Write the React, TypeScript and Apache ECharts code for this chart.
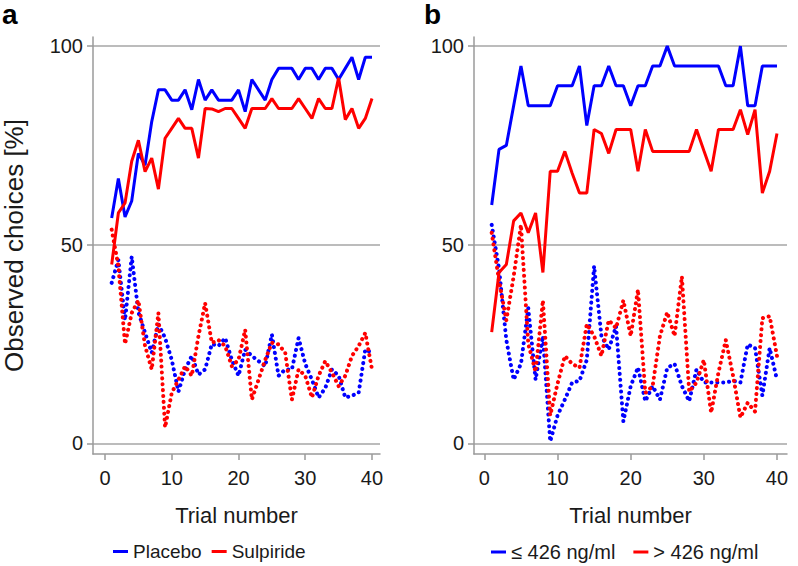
import React, { useEffect, useRef } from "react";
import * as echarts from "echarts";

const trials = Array.from({ length: 40 }, (_, i) => i + 1);
const xTicks = [0, 10, 20, 30, 40];
const yTicks = [0, 50, 100];

// Panel a
const placeboSolid = [56.7, 66.7, 57, 61, 73, 70, 81, 89, 89, 86.4, 86.4, 89, 84, 91.6, 86.4, 89, 86.4, 86.4, 86.4, 89, 83.5, 91.6, 89, 86.4, 91.6, 94.4, 94.4, 94.4, 91.6, 94.4, 94.4, 91.6, 94.4, 94.4, 91.6, 94.4, 97.2, 91.6, 97.2, 97.2];
const sulpirideSolid = [45, 58, 60.5, 71, 76.3, 68.4, 71.8, 64, 76.8, 79.3, 81.8, 79.3, 79.3, 71.8, 84.3, 84.2, 83.5, 84.3, 84.3, 81.8, 79.3, 84.3, 84.3, 84.3, 86.8, 84.3, 84.3, 84.3, 86.8, 84.3, 81.8, 86.8, 84.3, 84.3, 92, 81.5, 84.3, 79.3, 81.8, 86.8];
const placeboDotted = [40.4, 46.2, 31, 47, 33, 27.8, 22.8, 30, 26.5, 21, 13, 18.6, 22, 17.3, 18.6, 25, 24.5, 26.5, 21, 17, 23.6, 22, 20.7, 19.4, 27.4, 17, 18.6, 18.6, 26.5, 20, 16, 11.5, 13.9, 18.6, 17, 11.5, 12, 12.7, 23.6, 22.8];
const sulpirideDotted = [53.8, 44.6, 25, 32.8, 36, 24.5, 18.6, 32.8, 4, 12.7, 16, 19.4, 17, 27, 35.3, 25.3, 26, 24.5, 19.4, 21, 28.6, 11, 16, 21, 25.3, 24.9, 22.8, 11, 18.6, 17, 11.5, 17, 20.7, 17.8, 14.4, 17, 22, 24.5, 27.8, 18.6];

// Panel b
const lowSolid = [60, 74, 75, 85, 95, 85, 85, 85, 85, 90, 90, 90, 95, 80, 90, 90, 95, 90, 90, 85, 90, 90, 95, 95, 100, 95, 95, 95, 95, 95, 95, 95, 90, 90, 100, 85, 85, 95, 95, 95];
const highSolid = [28, 43, 45, 56, 58, 53, 58, 43, 68.5, 68.5, 73.5, 68, 63, 63, 79, 78, 73, 79, 79, 79, 68.5, 79, 73.5, 73.5, 73.5, 73.5, 73.5, 73.5, 79, 73.7, 68.5, 79, 79, 79, 84, 77.7, 84, 63, 68.5, 78];
const lowDotted = [55, 44, 26, 16, 20, 34, 16, 27, 0.5, 7, 11, 15.3, 15.7, 21, 44.6, 27, 23.6, 29.5, 5.5, 14.4, 19.1, 10.6, 14.4, 11, 19, 20, 14.4, 10.6, 18.6, 15.3, 15.3, 15.3, 15.3, 15.7, 15.3, 24.9, 24, 12, 24, 16];
const highDotted = [53, 41, 31, 42, 55, 25, 18, 36, 7, 15, 22, 20, 19, 30, 27, 22, 31, 29, 36, 27, 38.7, 12.7, 14.4, 27, 33, 27, 42, 13, 15.3, 21, 7.7, 17.8, 26, 17, 6.5, 10.2, 8, 31.5, 32, 22];

const legendA = ["Placebo", "Sulpiride"];
const legendB = ["\u2264 426 ng/ml", "> 426 ng/ml"];
const panelLabels = ["a", "b"];
const yAxisName = "Observed choices [%]";
const xAxisName = "Trial number";

const FONT = "'Liberation Sans', Arial, sans-serif";
const BLUE = "#0000ff";
const RED = "#ff0000";
const TEXT = "#1a1a1a";
const AXIS = "#9a9a9a";
const GRIDC = "#bcbcbc";

const pairs = (vals: number[]) => trials.map((t, i) => [t, vals[i]]);

function makeXAxis(gridIndex: number, min: number, max: number, name: string) {
  return {
    type: "value",
    gridIndex,
    min,
    max,
    name,
    nameLocation: "middle",
    nameGap: 50,
    nameTextStyle: { fontSize: 22, fontFamily: FONT, color: TEXT },
    axisLine: { show: true, onZero: false, lineStyle: { color: AXIS, width: 1.5 } },
    axisTick: { show: true, length: 6, customValues: xTicks, lineStyle: { color: AXIS, width: 1.5 } },
    axisLabel: { customValues: xTicks, fontSize: 20, fontFamily: FONT, color: TEXT, margin: 14 },
    splitLine: { show: false },
  };
}

function makeYAxis(gridIndex: number, name: string) {
  return {
    type: "value",
    gridIndex,
    min: -2.7,
    max: 102.3,
    name,
    nameLocation: "middle",
    nameGap: 66,
    nameTextStyle: { fontSize: 26, fontFamily: FONT, color: TEXT },
    axisLine: { show: true, onZero: false, lineStyle: { color: AXIS, width: 1.5 } },
    axisTick: { show: true, length: 6, customValues: yTicks, lineStyle: { color: AXIS, width: 1.5 } },
    axisLabel: { customValues: yTicks, fontSize: 20, fontFamily: FONT, color: TEXT, margin: 10 },
    splitLine: { show: true, lineStyle: { color: GRIDC, width: 2 } },
  };
}

function lineSeries(name: string, vals: number[], color: string, dotted: boolean, idx: number) {
  return {
    type: "line",
    name,
    xAxisIndex: idx,
    yAxisIndex: idx,
    data: pairs(vals),
    showSymbol: false,
    symbol: "none",
    lineStyle: dotted
      ? { color, width: 4, type: [0.1, 5.8], cap: "round", join: "round" }
      : { color, width: 3 },
    itemStyle: { color },
    z: dotted ? 3 : 4,
  };
}

export default function App() {
  const ref = useRef<HTMLDivElement>(null);
  useEffect(() => {
    document.body.style.margin = "0";
    if (!ref.current) return;
    const chart = echarts.init(ref.current, undefined, { renderer: "svg" });
    const legendStyle = {
      icon: "rect",
      itemWidth: 15,
      itemHeight: 3,
      top: 537,
      selectedMode: false,
    };
    chart.setOption({
      animation: false,
      backgroundColor: "#ffffff",
      title: [
        { text: panelLabels[0], left: 2, top: 0, padding: 0, textStyle: { fontSize: 28, fontWeight: "bold", fontFamily: FONT, color: "#000" } },
        { text: panelLabels[1], left: 424, top: 0, padding: 0, textStyle: { fontSize: 28, fontWeight: "bold", fontFamily: FONT, color: "#000" } },
      ],
      grid: [
        { left: 93, top: 37, width: 287, height: 417, outerBoundsMode: "none", containLabel: false },
        { left: 474, top: 37, width: 313, height: 417, outerBoundsMode: "none", containLabel: false },
      ],
      xAxis: [makeXAxis(0, -1.8, 41.2, xAxisName), makeXAxis(1, -1.42, 41.37, xAxisName)],
      yAxis: [makeYAxis(0, yAxisName), makeYAxis(1, "")],
      legend: [
        {
          ...legendStyle,
          left: 108,
          itemGap: 10,
          textStyle: { fontSize: 19, fontFamily: FONT, color: TEXT },
          data: [{ name: legendA[0], itemStyle: { color: BLUE } }, { name: legendA[1], itemStyle: { color: RED } }],
        },
        {
          ...legendStyle,
          left: 486,
          itemGap: 18,
          textStyle: { fontSize: 20, fontFamily: FONT, color: TEXT },
          data: [{ name: legendB[0], itemStyle: { color: BLUE } }, { name: legendB[1], itemStyle: { color: RED } }],
        },
      ],
      series: [
        lineSeries(legendA[0], placeboDotted, BLUE, true, 0),
        lineSeries(legendA[1], sulpirideDotted, RED, true, 0),
        lineSeries(legendA[0], placeboSolid, BLUE, false, 0),
        lineSeries(legendA[1], sulpirideSolid, RED, false, 0),
        lineSeries(legendB[0], lowDotted, BLUE, true, 1),
        lineSeries(legendB[1], highDotted, RED, true, 1),
        lineSeries(legendB[0], lowSolid, BLUE, false, 1),
        lineSeries(legendB[1], highSolid, RED, false, 1),
      ],
    });
    return () => chart.dispose();
  }, []);
  return <div ref={ref} style={{ width: 798, height: 566 }} />;
}
